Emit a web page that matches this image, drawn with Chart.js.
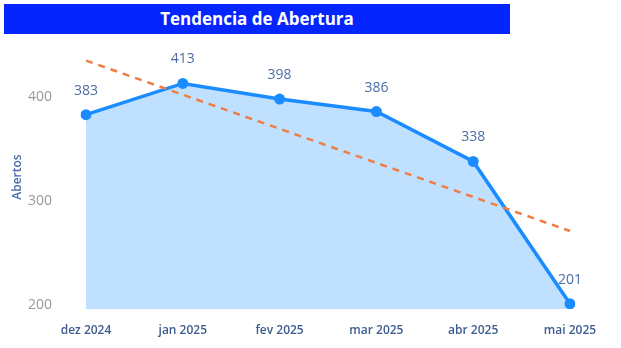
<!DOCTYPE html>
<html lang="pt">
<head>
  <meta charset="UTF-8" />
  <title>Tendencia de Abertura</title>
  <script src="https://cdn.jsdelivr.net/npm/chart.js"></script>
  <style>
    body { margin: 0; background: #fff; }
    #wrap { position: relative; width: 621px; height: 348px; }
    #title {
      position: absolute; left: 4px; top: 4px; width: 506px; height: 30px;
      background: #0525ff; color: #fff; text-align: center;
      font: bold 17px "Open Sans", sans-serif; line-height: 29px;
    }
    canvas { position: absolute; left: 0; top: 0; }
  </style>
</head>
<body>
  <div id="wrap">
    <canvas id="chart" width="621" height="348"></canvas>
    <div id="title">Tendencia de Abertura</div>
  </div>

  <script>
    // data
    const months = ["dez 2024", "jan 2025", "fev 2025", "mar 2025", "abr 2025", "mai 2025"];
    const opened = [383, 413, 398, 386, 338, 201];
    // trend line (start and end only)
    const trend = [435, null, null, null, null, 271];
    const yTicks = [200, 300, 400];

    // draws the value above each point
    const valueLabels = {
      id: 'valueLabels',
      afterDatasetsDraw(chart) {
        const ctx = chart.ctx;
        const meta = chart.getDatasetMeta(1);
        ctx.save();
        ctx.font = '14px "Open Sans", sans-serif';
        ctx.fillStyle = '#4a6ea8';
        ctx.textAlign = 'center';
        ctx.textBaseline = 'middle';
        meta.data.forEach((pt, i) => {
          ctx.fillText(opened[i], pt.x, pt.y - 24);
        });
        ctx.restore();
      }
    };

    new Chart(document.getElementById("chart"), {
      type: 'line',
      data: {
        labels: months,
        datasets: [
          {
            label: "Tendência",
            data: trend,
            spanGaps: true,
            borderColor: "#ef7d45",
            borderWidth: 2.5,
            borderDash: [7, 6],
            pointRadius: 0,
            fill: false,
            order: 0
          },
          {
            label: "Abertos",
            data: opened,
            borderColor: "#1a8cff",
            backgroundColor: "#bfe0ff",
            borderWidth: 3.5,
            pointRadius: 5.5,
            pointBackgroundColor: "#1a8cff",
            pointBorderWidth: 0,
            fill: 'start',
            tension: 0,
            order: 1
          }
        ]
      },
      options: {
        responsive: false,
        animation: false,
        layout: { padding: { top: 45, right: 51, left: 0, bottom: 0 } },
        plugins: { legend: { display: false }, tooltip: { enabled: false } },
        scales: {
          x: {
            offset: false,
            grid: { display: false },
            border: { display: false },
            ticks: {
              padding: 6,
              maxRotation: 0,
              color: '#3d5c90',
              font: { family: 'Open Sans', size: 12, weight: '600' }
            },
            afterFit(s) { s.height = 39; }
          },
          y: {
            min: 196,
            max: 450,
            grid: { display: false },
            border: { display: false },
            afterBuildTicks(s) { s.ticks = yTicks.map(v => ({ value: v })); },
            ticks: {
              padding: 26,
              color: '#9a9a9a',
              font: { family: 'Open Sans', size: 14 }
            },
            title: {
              display: true,
              text: 'Abertos',
              color: '#4a6ca8',
              padding: { top: 10, bottom: 0 },
              font: { family: 'Open Sans', size: 12, weight: '600' }
            },
            afterFit(s) { s.width = 86; }
          }
        }
      },
      plugins: [valueLabels]
    });
  </script>
</body>
</html>
